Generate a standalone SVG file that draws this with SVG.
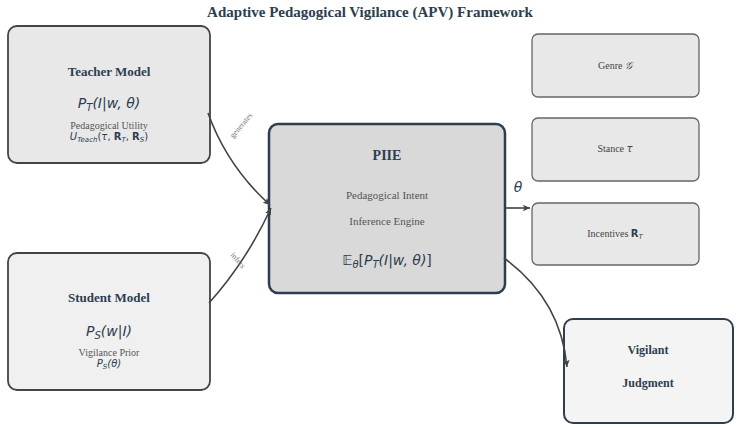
<svg xmlns="http://www.w3.org/2000/svg" width="741" height="430" viewBox="0 0 741 430">
<defs>
<marker id="ah" markerWidth="8" markerHeight="8" refX="7" refY="4" orient="auto" markerUnits="userSpaceOnUse">
<path d="M0,0.8 L7,4 L0,7.2 L1.5,4 Z" fill="#444"/>
</marker>
</defs>
<style>
.t{font-family:"Liberation Serif",serif;text-anchor:middle}
.h{font-weight:bold;fill:#2c3e50}
.s{fill:#555;font-size:10px}
.m{font-family:"DejaVu Sans",sans-serif;font-style:italic;fill:#2c3e50;text-anchor:middle}
.e{fill:none;stroke:#444;stroke-width:1.6}
.lab{font-family:"Liberation Serif",serif;font-size:8px;fill:#777;text-anchor:middle}
</style>
<rect width="741" height="430" fill="#fff"/>
<text class="t h" x="370" y="17" font-size="15">Adaptive Pedagogical Vigilance (APV) Framework</text>

<g id="teacher">
<rect x="8" y="26" width="202" height="137" rx="9" fill="#e8e8e8" stroke="#444" stroke-width="1.8"/>
<text class="t h" x="109" y="76" font-size="13">Teacher Model</text>
<text class="m" x="109" y="108" font-size="14">P<tspan font-size="10" dy="3">T</tspan><tspan dy="-3">(I|w, θ)</tspan></text>
<text class="t s" x="109" y="129">Pedagogical Utility</text>
<text class="m" x="109" y="140" font-size="10">U<tspan font-size="7" dy="2">Teach</tspan><tspan dy="-2" font-style="normal">(</tspan>τ<tspan font-style="normal">, </tspan><tspan font-style="normal" font-weight="bold">R</tspan><tspan font-size="7" dy="2">T</tspan><tspan dy="-2" font-style="normal">, </tspan><tspan font-style="normal" font-weight="bold">R</tspan><tspan font-size="7" dy="2">S</tspan><tspan dy="-2" font-style="normal">)</tspan></text>
</g>

<g id="student">
<rect x="8" y="253" width="202" height="137" rx="9" fill="#f0f0f0" stroke="#444" stroke-width="1.8"/>
<text class="t h" x="109" y="302" font-size="13">Student Model</text>
<text class="m" x="109" y="336" font-size="14">P<tspan font-size="10" dy="3">S</tspan><tspan dy="-3">(w|I)</tspan></text>
<text class="t s" x="109" y="356">Vigilance Prior</text>
<text class="m" x="109" y="367" font-size="10">P<tspan font-size="7" dy="2">S</tspan><tspan dy="-2">(θ)</tspan></text>
</g>

<g id="piie">
<rect x="269" y="124" width="236" height="169" rx="9" fill="#d9d9d9" stroke="#2c3e50" stroke-width="2.5"/>
<text class="t h" x="387" y="160" font-size="14">PIIE</text>
<text class="t" x="387" y="199" font-size="11" fill="#555">Pedagogical Intent</text>
<text class="t" x="387" y="225" font-size="11" fill="#555">Inference Engine</text>
<text class="m" x="387" y="265" font-size="14"><tspan font-style="normal">𝔼</tspan><tspan font-size="10" dy="3">θ</tspan><tspan dy="-3" font-style="normal">[</tspan>P<tspan font-size="10" dy="3">T</tspan><tspan dy="-3">(I|w, θ)</tspan><tspan font-style="normal">]</tspan></text>
</g>

<g id="genre">
<rect x="532" y="34" width="167" height="63" rx="6" fill="#e8e8e8" stroke="#666" stroke-width="1.3"/>
<text class="t" x="615" y="69" font-size="10" fill="#444">Genre <tspan font-family="DejaVu Sans,sans-serif" font-style="italic">𝒢</tspan></text>
</g>
<g id="stance">
<rect x="532" y="118" width="167" height="63" rx="6" fill="#e8e8e8" stroke="#666" stroke-width="1.3"/>
<text class="t" x="615" y="152" font-size="10" fill="#444">Stance <tspan font-family="DejaVu Sans,sans-serif" font-style="italic">τ</tspan></text>
</g>
<g id="incentives">
<rect x="532" y="203" width="167" height="62" rx="6" fill="#e8e8e8" stroke="#666" stroke-width="1.3"/>
<text class="t" x="615" y="237" font-size="10" fill="#444">Incentives <tspan font-family="DejaVu Sans,sans-serif" font-weight="bold" fill="#2c3e50">R</tspan><tspan font-family="DejaVu Sans,sans-serif" font-style="italic" font-size="7" dy="2">T</tspan></text>
</g>

<g id="judgment">
<rect x="564" y="319" width="169" height="104" rx="9" fill="#f4f4f4" stroke="#2c3e50" stroke-width="2"/>
<text class="t h" x="648" y="354" font-size="12">Vigilant</text>
<text class="t h" x="648" y="387" font-size="12">Judgment</text>
</g>

<g id="connectors">
<path class="e" d="M208,113 Q227,166 270,205" marker-end="url(#ah)"/>
<text class="lab" transform="translate(243,127) rotate(-50)">generates</text>
<path class="e" d="M209,303 Q246,262 271,208" marker-end="url(#ah)"/>
<text class="lab" transform="translate(236,262) rotate(50)">infers</text>
<path class="e" d="M505,208 L530,208" marker-end="url(#ah)"/>
<text class="m" x="518" y="192" font-size="14" fill="#444">θ</text>
<path class="e" d="M504,258 Q561,300 567,367" marker-end="url(#ah)"/>
</g>
</svg>
